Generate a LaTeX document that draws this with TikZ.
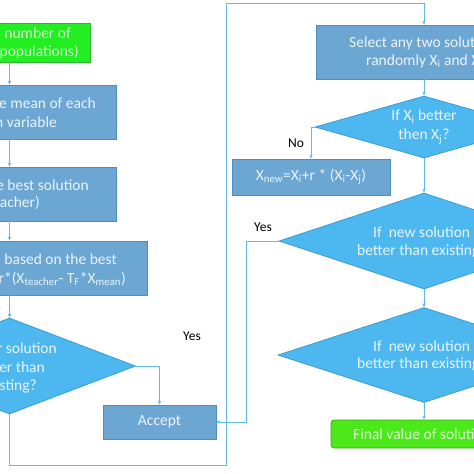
\documentclass[tikz,border=0pt]{standalone}
\usepackage{fontspec}
\setmainfont{Carlito}
\usetikzlibrary{shapes.geometric,arrows.meta}
\definecolor{boxfill}{HTML}{6CA6D3}
\definecolor{boxline}{HTML}{4F8DC0}
\definecolor{diafill}{HTML}{4DB8F0}
\definecolor{dialine}{HTML}{3A9BD8}
\definecolor{greenA}{HTML}{22EE22}
\definecolor{greenAline}{HTML}{2CB52C}
\definecolor{greenB}{HTML}{4CE81A}
\definecolor{greenBline}{HTML}{3AAE1A}
\definecolor{conn}{HTML}{62B8E6}
\definecolor{lighttext}{HTML}{EAF4FC}
\definecolor{greentext}{HTML}{D8F8D0}
\begin{document}
\begin{tikzpicture}[x=1pt,y=-1pt,
  font=\fontsize{15.5}{19}\selectfont,
  procbox/.style={rectangle,draw=boxline,fill=boxfill,line width=0.8pt,inner sep=0pt,text=lighttext,align=center},
  decbox/.style={diamond,aspect=3,draw=dialine,fill=diafill,line width=0.8pt,inner sep=0pt,text=lighttext,align=center},
  startbox/.style={rectangle,draw=greenAline,fill=greenA,line width=0.8pt,inner sep=0pt},
  endbox/.style={rectangle,rounded corners=3pt,draw=greenBline,fill=greenB,line width=0.8pt,inner sep=0pt},
  txt/.style={inner sep=0pt,text=lighttext},
  gtxt/.style={inner sep=0pt,text=greentext},
  lbl/.style={inner sep=0pt,text=black,font=\fontsize{13.5}{16}\selectfont},
  link/.style={draw=conn,line width=0.8pt,-{Stealth[length=4pt,width=3.5pt]}}]
\useasboundingbox (0,0) rectangle (474,474);
\clip (0,0) rectangle (474,474);

% left column shapes
\node[startbox,minimum width=161pt,minimum height=39pt] (init) at (9.5,42.5) {};
\node[procbox,minimum width=213pt,minimum height=54pt] (mean) at (9.5,112) {};
\node[procbox,minimum width=213pt,minimum height=54pt] (best) at (9.5,194) {};
\node[procbox,minimum width=275pt,minimum height=54pt] (upd) at (9.5,268) {};
\node[decbox,minimum width=252pt,minimum height=96pt] (dl) at (9.5,366) {};
\node[procbox,minimum width=113pt,minimum height=34pt] (acc) at (159.5,422) {Accept};

% left column visible text
\node[gtxt,anchor=east] (t1a) at (71,33) {e number of};
\node[gtxt,anchor=east] (t1b) at (79,52) {(populations)};
\node[txt,anchor=east] (t2a) at (96,103) {e mean of each};
\node[txt,anchor=east] (t2b) at (57,122) {n variable};
\node[txt,anchor=east] (t3a) at (89,185) {e best solution};
\node[txt,anchor=east] (t3b) at (40,203) {acher)};
\node[txt,anchor=east] (t4a) at (117,259) {n based on the best};
\node[txt,anchor=east] (t4b) at (126,279) {+r*(X\textsubscript{teacher}- T\textsubscript{F}*X\textsubscript{mean})};
\node[txt,anchor=east] (t5a) at (57,348) {r solution};
\node[txt,anchor=east] (t5b) at (45,367) {er than};
\node[txt,anchor=east] (t5c) at (37,386) {sting?};

% right column shapes
\node[procbox,minimum width=216pt,minimum height=54pt] (sel) at (424,52) {};
\node[decbox,minimum width=218pt,minimum height=62pt] (dx) at (424,127) {If X\textsubscript{i} better\\then X\textsubscript{j}?};
\node[procbox,minimum width=158pt,minimum height=36pt] (xnew) at (311,177) {X\textsubscript{new}=X\textsubscript{i}+r * (X\textsubscript{i}-X\textsubscript{j})};
\node[decbox,minimum width=290pt,minimum height=96pt] (d2) at (424,241) {};
\node[decbox,minimum width=292pt,minimum height=95pt] (d3) at (424,355) {};
\node[endbox,minimum width=186pt,minimum height=28pt] (fin) at (424,434) {};

% right column visible text
\node[txt,anchor=west] (s1) at (349,43) {Select any two solutions};
\node[txt,anchor=west] (s2) at (366,62) {randomly X\textsubscript{i} and X\textsubscript{j}};
\node[txt,anchor=west] (d2a) at (373,232) {If\ \ new solution};
\node[txt,anchor=west] (d2b) at (357,251) {better than existing?};
\node[txt,anchor=west] (d3a) at (373,346) {If\ \ new solution};
\node[txt,anchor=west] (d3b) at (357,364) {better than existing?};
\node[gtxt,anchor=west] (f1) at (353,434) {Final value of solution};

% labels
\node[lbl] (no) at (296,143) {No};
\node[lbl] (yes1) at (263,227) {Yes};
\node[lbl] (yes2) at (192,336) {Yes};

% helper coordinates
\coordinate (c1) at (9.5,465);
\coordinate (c2) at (226,465);
\coordinate (c3) at (226,3.5);
\coordinate (c4) at (424,3.5);
\coordinate (c5) at (246,241);
\coordinate (c6) at (246,422);

% connectors
\draw[link] (init) -- (mean);
\draw[link] (mean) -- (best);
\draw[link] (best) -- (upd);
\draw[link] (upd) -- (dl);
\draw[link] (dl.east) -| (acc.north);
\draw[link] (dl.south) -- (c1) -- (c2) -- (c3) -- (c4) -- (sel.north);
\draw[link] (sel) -- (dx);
\draw[link] (dx.west) -| (xnew.north);
\draw[link] (dx) -- (d2);
\draw[link] (d2.west) -- (c5) -- (c6) -- (acc.east);
\draw[link] (d2) -- (d3);
\draw[link] (d3) -- (fin);
\end{tikzpicture}
\end{document}
